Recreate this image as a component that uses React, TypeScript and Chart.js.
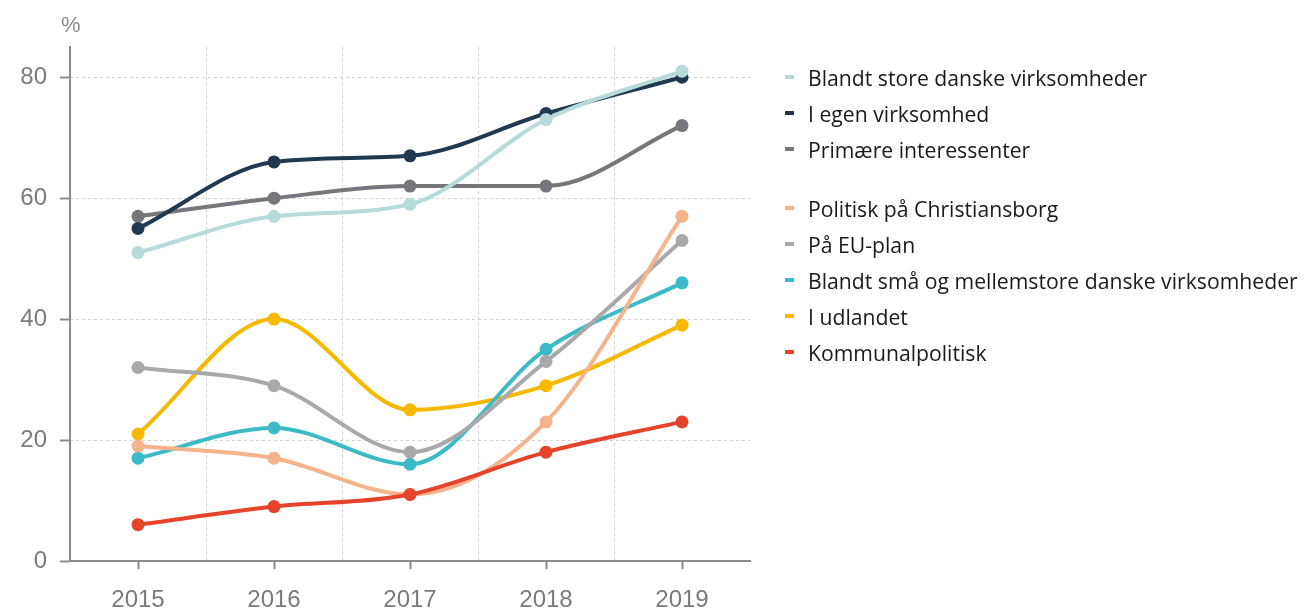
import React, { useEffect, useRef } from "react";
import { Chart, registerables } from "chart.js";

Chart.register(...registerables);

const categories = ["2015", "2016", "2017", "2018", "2019"];

const seriesNames = [
  "Blandt store danske virksomheder",
  "I egen virksomhed",
  "Primære interessenter",
  "Politisk på Christiansborg",
  "På EU-plan",
  "Blandt små og mellemstore danske virksomheder",
  "I udlandet",
  "Kommunalpolitisk",
];

const blandtStore = [51, 57, 59, 73, 81];
const iEgen = [55, 66, 67, 74, 80];
const primaere = [57, 60, 62, 62, 72];
const christiansborg = [19, 17, 11, 23, 57];
const euPlan = [32, 29, 18, 33, 53];
const blandtSmaa = [17, 22, 16, 35, 46];
const udlandet = [21, 40, 25, 29, 39];
const kommunal = [6, 9, 11, 18, 23];

const seriesValues = [blandtStore, iEgen, primaere, christiansborg, euPlan, blandtSmaa, udlandet, kommunal];

const seriesColors = ["#b7dbda", "#213950", "#77767b", "#f4b38b", "#a9a9ab", "#3cbac6", "#f6b900", "#e5432a"];

// draw order (lower = on top)
const seriesOrder = [2, 3, 4, 5, 6, 7, 8, 1];

const yTicks = [0, 20, 40, 60, 80];
const yMax = 85;
const firstGroupSize = 3;

const AXIS = "#8c8c8c";
const GRID = "#d2d2d2";

export default function App() {
  const ref = useRef<HTMLCanvasElement | null>(null);

  useEffect(() => {
    if (!ref.current) return;
    const chart = new Chart(ref.current, {
      type: "line",
      data: {
        labels: categories,
        datasets: seriesNames.map((name, i) => ({
          label: name,
          data: seriesValues[i],
          borderColor: seriesColors[i],
          backgroundColor: seriesColors[i],
          pointBackgroundColor: seriesColors[i],
          pointBorderWidth: 0,
          pointRadius: 6.5,
          borderWidth: 4,
          cubicInterpolationMode: "monotone" as const,
          order: seriesOrder[i],
          xAxisID: "x",
          yAxisID: "y",
        })),
      },
      options: {
        animation: false,
        responsive: false,
        maintainAspectRatio: false,
        layout: { padding: { left: 0, right: 557, top: 47, bottom: 0 } },
        plugins: { legend: { display: false }, tooltip: { enabled: false } },
        scales: {
          xg: {
            type: "category",
            position: "bottom",
            offset: true,
            grid: {
              offset: true,
              drawTicks: false,
              color: (ctx: any) => (ctx.type === "tick" && ctx.index > 0 ? GRID : "rgba(0,0,0,0)"),
              lineWidth: 1,
            },
            border: { display: false, dash: [3, 3] },
            ticks: { display: false },
            afterFit: (s: any) => {
              s.height = 0;
            },
          },
          yg: {
            type: "linear",
            position: "left",
            min: 0,
            max: yMax,
            grid: {
              drawTicks: false,
              color: (ctx: any) => (ctx.tick && ctx.tick.value > 0 ? GRID : "rgba(0,0,0,0)"),
              lineWidth: 1,
            },
            border: { display: false, dash: [3, 3] },
            ticks: { display: false, stepSize: 20, includeBounds: false },
            afterFit: (s: any) => {
              s.width = 0;
            },
          },
          x: {
            type: "category",
            position: "bottom",
            offset: true,
            grid: {
              offset: false,
              drawOnChartArea: false,
              drawTicks: true,
              tickLength: 8,
              tickWidth: 2,
              color: AXIS,
            },
            border: { display: true, color: AXIS, width: 2 },
            ticks: {
              color: "#7b7b7b",
              padding: 17,
              font: { family: "'Liberation Sans', Arial, sans-serif", size: 24 },
              maxRotation: 0,
            },
            afterFit: (s: any) => {
              s.height = 49;
            },
          },
          y: {
            type: "linear",
            position: "left",
            min: 0,
            max: yMax,
            afterBuildTicks: (s: any) => {
              s.ticks = yTicks.map((v) => ({ value: v }));
            },
            grid: {
              drawOnChartArea: false,
              drawTicks: true,
              tickLength: 10,
              tickWidth: 2,
              color: AXIS,
            },
            border: { display: true, color: AXIS, width: 2 },
            ticks: {
              color: "#7b7b7b",
              padding: 13,
              font: { family: "'Liberation Sans', Arial, sans-serif", size: 24 },
            },
            afterFit: (s: any) => {
              s.width = 70;
            },
          },
        },
      },
    });
    return () => chart.destroy();
  }, []);

  const legendRows: React.ReactNode[] = [];
  seriesNames.forEach((name, i) => {
    if (i === firstGroupSize) legendRows.push(<div key="gap" style={{ height: 23 }} />);
    legendRows.push(
      <div key={name} style={{ height: 36, display: "flex", alignItems: "center" }}>
        <span style={{ display: "inline-block", width: 9, height: 4, background: seriesColors[i], marginRight: 14 }} />
        <span>{name}</span>
      </div>
    );
  });

  return (
    <div style={{ position: "fixed", left: 0, top: 0, width: 1307, height: 610, background: "#fff", overflow: "hidden" }}>
      <canvas ref={ref} width={1307} height={610} style={{ position: "absolute", left: 0, top: 0 }} />
      <div
        style={{
          position: "absolute",
          left: 61,
          top: 12,
          color: "#8a8a8a",
          fontFamily: "'Liberation Sans', Arial, sans-serif",
          fontSize: 22,
        }}
      >
        %
      </div>
      <div
        style={{
          position: "absolute",
          left: 785,
          top: 59,
          color: "#1a1a1a",
          fontFamily: "'Open Sans', sans-serif",
          fontSize: 21.2,
          whiteSpace: "nowrap",
        }}
      >
        {legendRows}
      </div>
    </div>
  );
}
